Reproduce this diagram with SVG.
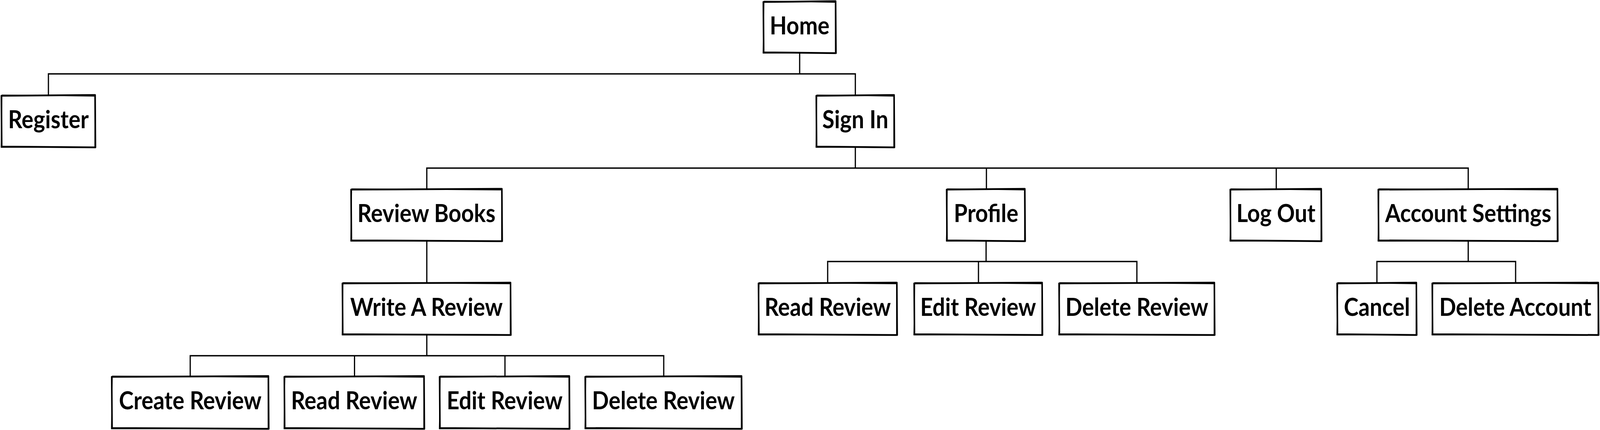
<svg xmlns="http://www.w3.org/2000/svg" width="4626" height="1100" viewBox="0 0 4626 1100" preserveAspectRatio="none">
<style>
svg{width:100vw;height:100vh}
.bx{fill:#fff;stroke:#000;stroke-width:4.5;stroke-linejoin:round;stroke-linecap:round}
.bx2{fill:none;stroke:#000;stroke-width:2;stroke-linejoin:round;stroke-linecap:round}
.lb{font-family:Lato,"Liberation Sans",sans-serif;font-weight:700;font-size:64px;fill:#000;text-anchor:middle}
.cn{fill:none;stroke:#000;stroke-width:3.5;stroke-linejoin:miter;stroke-linecap:square}
</style>
<rect width="4626" height="1100" fill="#fff"/>
<g id="connectors">
<path class="cn" d="M2312 136V189M140 189H2473M140 189V243M2473 189V243"/>
<path class="cn" d="M2473 377V430M1234 430H4245M1234 430V483M2852 430V483M3690 430V483M4245 430V483"/>
<path class="cn" d="M1234 617V723"/>
<path class="cn" d="M2851 617V669M2393 669H3287M2393 669V723M2829 669V723M3287 669V723"/>
<path class="cn" d="M4245 617V669M3981 669H4382M3981 669V723M4382 669V723"/>
<path class="cn" d="M1234 857V910M550 910H1919M550 910V962M1025 910V962M1460 910V962M1919 910V962"/>
</g>
<g id="home"><path class="bx" d="M2207 5L2416 3L2417 136L2208 134Z"/><path class="bx2" d="M2209 3L2415 6L2415 135L2206 136Z"/><text class="lb" x="2312" y="88">Home</text></g>
<g id="register"><path class="bx" d="M4 245L275 243L276 377L5 375Z"/><path class="bx2" d="M6 243L274 246L274 376L3 377Z"/><text class="lb" x="140" y="328">Register</text></g>
<g id="sign-in"><path class="bx" d="M2360 245L2585 243L2586 377L2361 375Z"/><path class="bx2" d="M2362 243L2584 246L2584 376L2359 377Z"/><text class="lb" x="2473" y="328">Sign In</text></g>
<g id="review-books"><path class="bx" d="M1015 485L1451 483L1452 617L1016 615Z"/><path class="bx2" d="M1017 483L1450 486L1450 616L1014 617Z"/><text class="lb" x="1233" y="568">Review Books</text></g>
<g id="profile"><path class="bx" d="M2737 485L2963 483L2964 617L2738 615Z"/><path class="bx2" d="M2739 483L2962 486L2962 616L2736 617Z"/><text class="lb" x="2851" y="568">Profile</text></g>
<g id="log-out"><path class="bx" d="M3557 485L3820 483L3821 617L3558 615Z"/><path class="bx2" d="M3559 483L3819 486L3819 616L3556 617Z"/><text class="lb" x="3689" y="568">Log Out</text></g>
<g id="account-settings"><path class="bx" d="M3985 485L4503 483L4504 617L3986 615Z"/><path class="bx2" d="M3987 483L4502 486L4502 616L3984 617Z"/><text class="lb" x="4245" y="568">Account Settings</text></g>
<g id="write-a-review"><path class="bx" d="M990 725L1476 723L1477 857L991 855Z"/><path class="bx2" d="M992 723L1475 726L1475 856L989 857Z"/><text class="lb" x="1233" y="808">Write A Review</text></g>
<g id="profile-read-review"><path class="bx" d="M2193 725L2593 723L2594 857L2194 855Z"/><path class="bx2" d="M2195 723L2592 726L2592 856L2192 857Z"/><text class="lb" x="2393" y="808">Read Review</text></g>
<g id="profile-edit-review"><path class="bx" d="M2643 725L3013 723L3014 857L2644 855Z"/><path class="bx2" d="M2645 723L3012 726L3012 856L2642 857Z"/><text class="lb" x="2828" y="808">Edit Review</text></g>
<g id="profile-delete-review"><path class="bx" d="M3062 725L3511 723L3512 857L3063 855Z"/><path class="bx2" d="M3064 723L3510 726L3510 856L3061 857Z"/><text class="lb" x="3287" y="808">Delete Review</text></g>
<g id="cancel"><path class="bx" d="M3866 725L4095 723L4096 857L3867 855Z"/><path class="bx2" d="M3868 723L4094 726L4094 856L3865 857Z"/><text class="lb" x="3981" y="808">Cancel</text></g>
<g id="delete-account"><path class="bx" d="M4141 725L4621 723L4622 857L4142 855Z"/><path class="bx2" d="M4143 723L4620 726L4620 856L4140 857Z"/><text class="lb" x="4381" y="808">Delete Account</text></g>
<g id="create-review"><path class="bx" d="M323 964L776 962L777 1097L324 1095Z"/><path class="bx2" d="M325 962L775 965L775 1096L322 1097Z"/><text class="lb" x="550" y="1047">Create Review</text></g>
<g id="write-read-review"><path class="bx" d="M822 964L1226 962L1227 1097L823 1095Z"/><path class="bx2" d="M824 962L1225 965L1225 1096L821 1097Z"/><text class="lb" x="1024" y="1047">Read Review</text></g>
<g id="write-edit-review"><path class="bx" d="M1271 964L1646 962L1647 1097L1272 1095Z"/><path class="bx2" d="M1273 962L1645 965L1645 1096L1270 1097Z"/><text class="lb" x="1459" y="1047">Edit Review</text></g>
<g id="write-delete-review"><path class="bx" d="M1692 964L2144 962L2145 1097L1693 1095Z"/><path class="bx2" d="M1694 962L2143 965L2143 1096L1691 1097Z"/><text class="lb" x="1918" y="1047">Delete Review</text></g>
</svg>
